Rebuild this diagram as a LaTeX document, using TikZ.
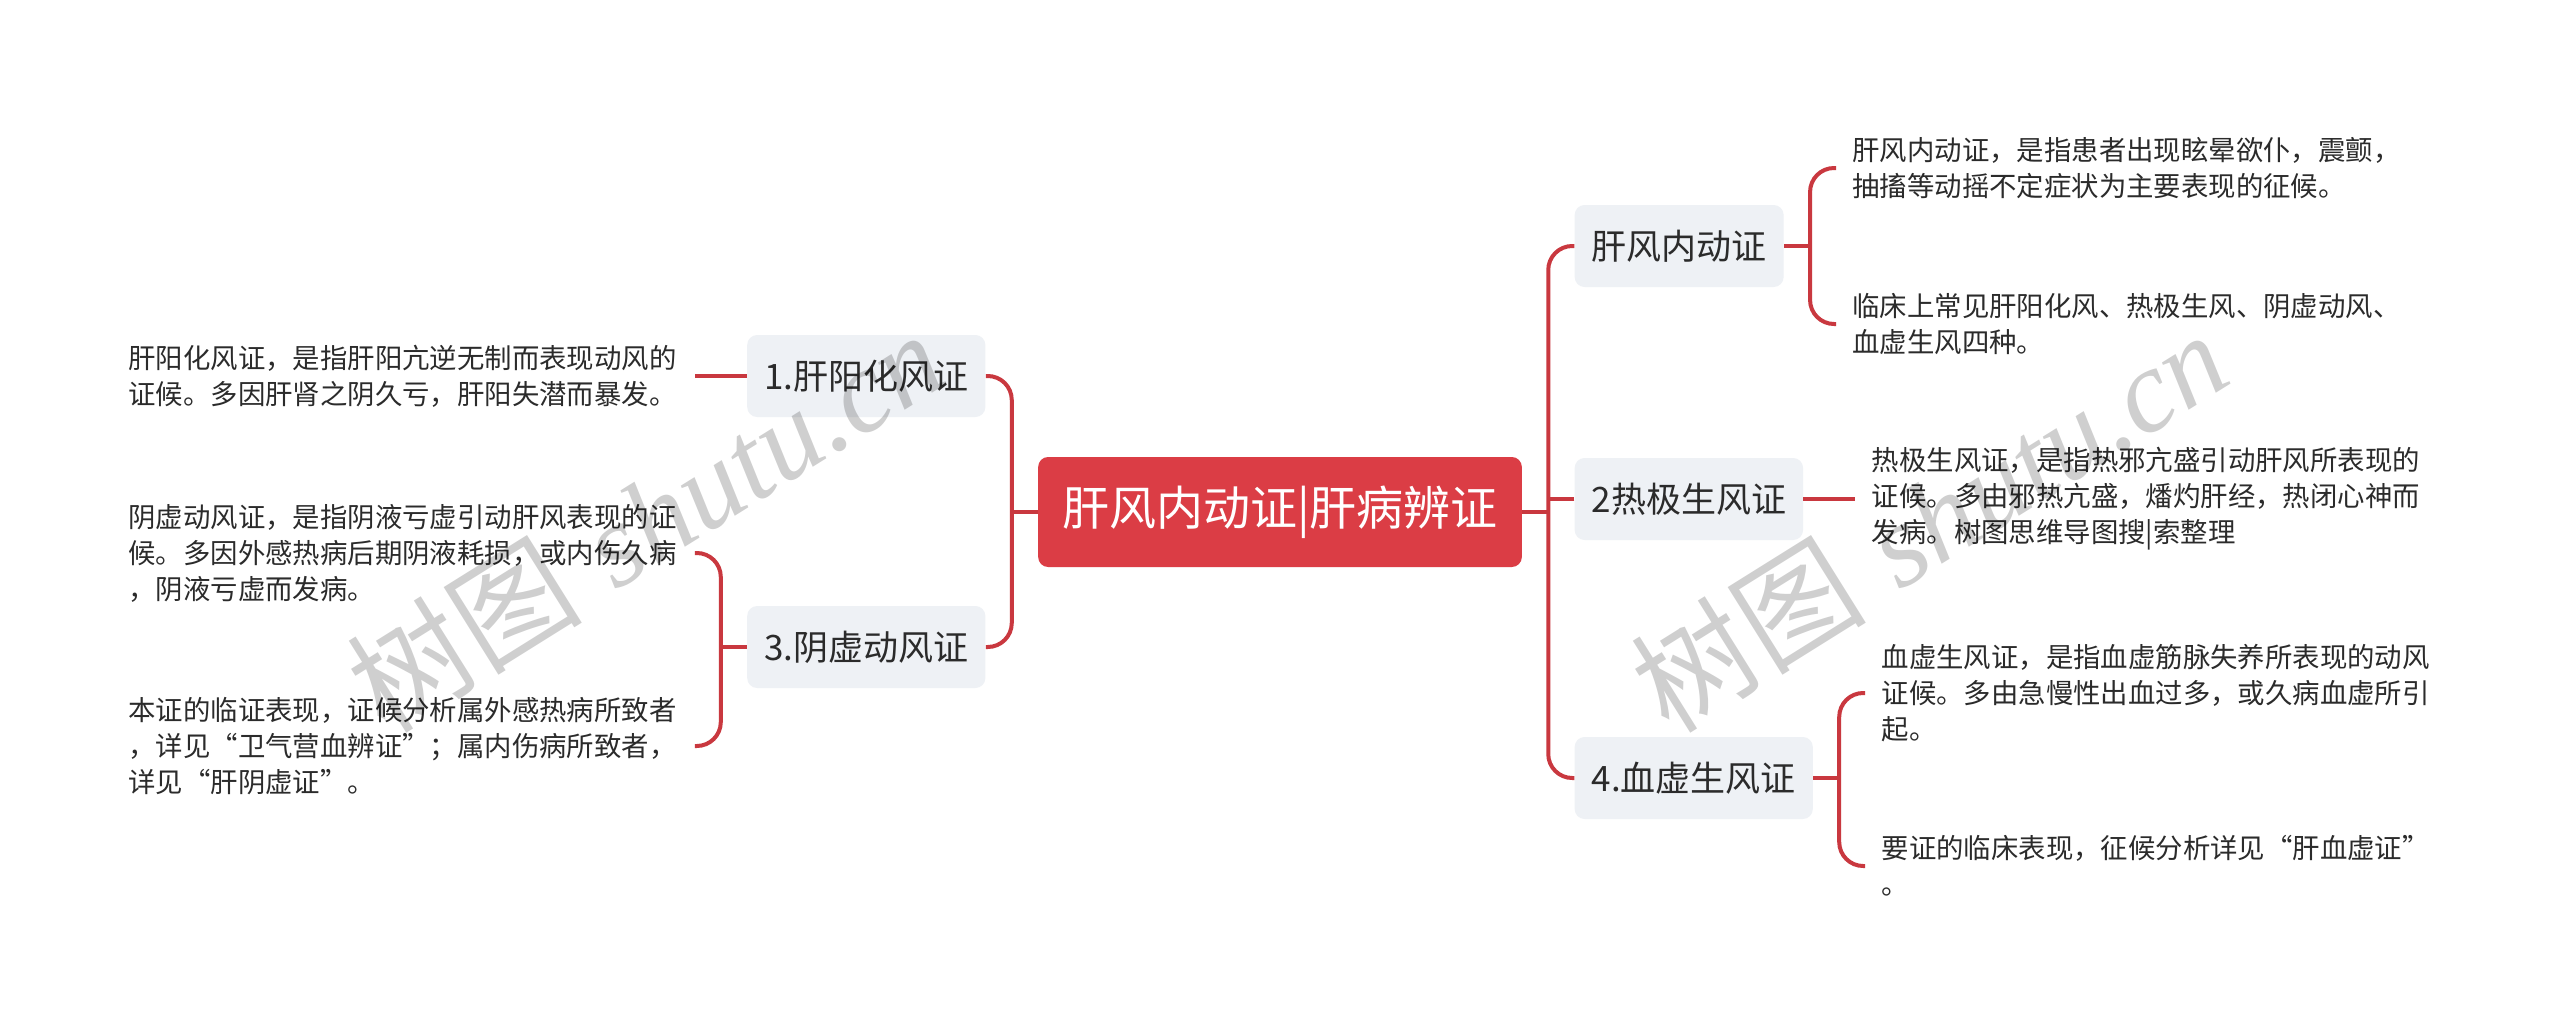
\documentclass[tikz,border=0pt]{standalone}
\usepackage{fontspec}
\setmainfont{Noto Sans CJK SC}
\newfontfamily\markfont{Liberation Serif}
\usepackage{xcolor}
\usepackage{tikz}
\usetikzlibrary{positioning,calc}

\definecolor{rootred}{HTML}{DB3D45}
\definecolor{linkred}{HTML}{C9383F}
\definecolor{topicbg}{HTML}{EEF1F5}
\definecolor{inktext}{HTML}{2B2B2B}

\begin{document}
\begin{tikzpicture}[
  x=0.5pt, y=-0.5pt,
  node distance=26pt,
  root/.style={
    rectangle, rounded corners=5pt, fill=rootred, text=white,
    font=\fontsize{23.5}{28}\selectfont, minimum height=55pt, inner xsep=12pt},
  topic/.style={
    rectangle, rounded corners=5pt, fill=topicbg, text=inktext,
    font=\fontsize{17.5}{21}\selectfont, minimum height=41pt, inner xsep=8.5pt},
  leaf/.style={
    text width=275pt, align=left, inner xsep=8pt, inner ysep=0pt,
    text=inktext, font=\fontsize{13.7}{18}\selectfont},
  link/.style={draw=linkred, line width=2pt, rounded corners=12pt},
  wmark/.style={text=black, opacity=0.19, rotate=32,
    font=\fontsize{59}{66}\selectfont},
]

% ---- Canvas ----
\fill[white] (0,0) rectangle (2560,1033);

% ---- Root ----
\node[root] (root) at (1280,512) {肝风内动证|肝病辨证};

% ---- Left branches ----
\node[topic, left=of root, yshift=68pt] (yang) {1.肝阳化风证};
\node[topic, left=of root, yshift=-67.5pt] (yin) {3.阴虚动风证};

\node[leaf, left=of yang] (yangtxt)
  {肝阳化风证，是指肝阳亢逆无制而表现动风的\\证候。多因肝肾之阴久亏，肝阳失潜而暴发。};
\node[leaf, left=of yin, yshift=47pt] (yintxt)
  {阴虚动风证，是指阴液亏虚引动肝风表现的证\\候。多因外感热病后期阴液耗损，或内伤久病\\，阴液亏虚而发病。};
\node[leaf, left=of yin, yshift=-49.5pt] (yinsee)
  {本证的临证表现，证候分析属外感热病所致者\\，详见“卫气营血辨证”；属内伤病所致者，\\详见“肝阴虚证”。};

% ---- Right branches ----
\node[topic, right=of root, yshift=133pt] (wind) {肝风内动证};
\node[topic, right=of root, yshift=6.5pt] (heat) {2热极生风证};
\node[topic, right=of root, yshift=-133pt] (blood) {4.血虚生风证};

\node[leaf, right=of wind, yshift=39pt] (windtxt)
  {肝风内动证，是指患者出现眩晕欲仆，震颤，\\抽搐等动摇不定症状为主要表现的征候。};
\node[leaf, right=of wind, yshift=-39pt] (windkinds)
  {临床上常见肝阳化风、热极生风、阴虚动风、\\血虚生风四种。};
\node[leaf, right=of heat] (heattxt)
  {热极生风证，是指热邪亢盛引动肝风所表现的\\证候。多由邪热亢盛，燔灼肝经，热闭心神而\\发病。树图思维导图搜|索整理};
\node[leaf, right=of blood, yshift=42.5pt] (bloodtxt)
  {血虚生风证，是指血虚筋脉失养所表现的动风\\证候。多由急慢性出血过多，或久病血虚所引\\起。};
\node[leaf, right=of blood, yshift=-44pt] (bloodsee)
  {要证的临床表现，征候分析详见“肝血虚证”\\。};

% ---- Trunk links ----
\draw[link] (root.west) -- ++(-13pt,0);
\draw[link] (yang.east) -| ([xshift=-13pt]root.west) |- (yin.east);
\draw[link] (root.east) -- ++(13pt,0);
\draw[link] (wind.west) -| ([xshift=13pt]root.east) |- (blood.west);
\draw[link] (heat.west) -- ++(-13pt,0);

% ---- Leaf links ----
\draw[link] (yang.west) -- (yangtxt.east);
\draw[link] (yin.west) -- ++(-13pt,0);
\draw[link] (yintxt.east) -| ([xshift=-13pt]yin.west) |- (yinsee.east);
\draw[link] (wind.east) -- ++(13pt,0);
\draw[link] (windtxt.west) -| ([xshift=13pt]wind.east) |- (windkinds.west);
\draw[link] (heat.east) -- (heattxt.west);
\draw[link] (blood.east) -- ++(13pt,0);
\draw[link] (bloodtxt.west) -| ([xshift=13pt]blood.east) |- (bloodsee.west);

% ---- Watermarks ----
\node[wmark] (markleft) at (645,520) {树图\hspace{0.3em}{\markfont\itshape shutu.cn}};
\node[wmark] (markright) at (1929,520) {树图\hspace{0.3em}{\markfont\itshape shutu.cn}};

\end{tikzpicture}
\end{document}
